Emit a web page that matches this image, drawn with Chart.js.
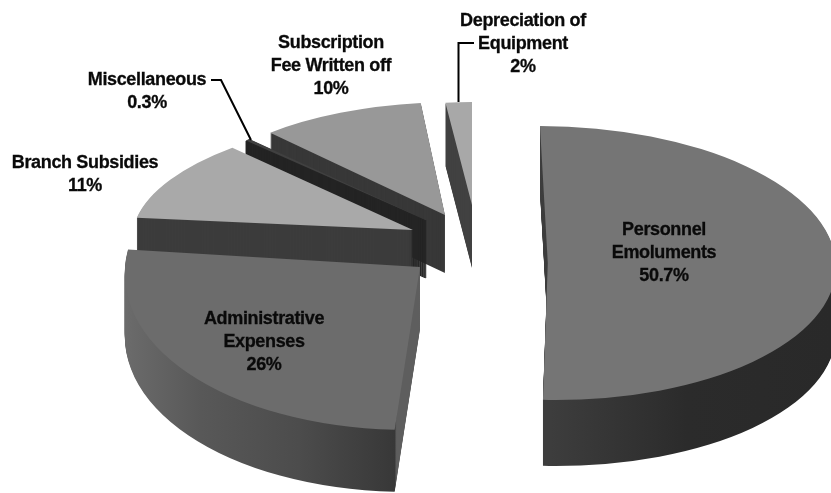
<!DOCTYPE html>
<html>
<head>
<meta charset="utf-8">
<script src="https://cdn.jsdelivr.net/npm/chart.js@4/dist/chart.umd.js"></script>
<style>
  html, body { margin: 0; padding: 0; background: #fff; }
  canvas { display: block; }
</style>
</head>
<body>
<canvas id="chart" width="831" height="493"></canvas>
<script>
const categories = ["Personnel Emoluments", "Administrative Expenses", "Branch Subsidies", "Miscellaneous", "Subscription Fee Written off", "Depreciation of Equipment"];
const percentages = [50.7, 26, 11, 0.3, 10, 2];

const topColors = ["#757575", "#6c6c6c", "#a9a9a9", "#404040", "#989898", "#a8a8a8"];
const wallColors = [
  [[543, "#3d3d3d"], [680, "#2b2b2b"], [831, "#292929"]],
  [[124, "#6c6c6c"], [210, "#585858"], [310, "#4c4c4c"], [407, "#383838"], [408, "#5e5e5e"], [430, "#5e5e5e"]],
  "#3c3c3c",
  "#242424",
  "#383838",
  "#424242",
];

// the fake 3D view: where each exploded slice ends up and how it is flattened
const sliceView = [
  { apexX: 547.8, apexY: 263, rx: 288, ry: 137, skew: 0.057, depth: 66 },
  { apexX: 420, apexY: 267, rx: 295, ry: 163, skew: -0.076, depth: 62 },
  { apexX: 413, apexY: 230, rx: 280, ry: 115, skew: -0.18, depth: 58 },
  { apexX: 426, apexY: 220, rx: 258, ry: 111, skew: 0, depth: 58, wallEdge: 2 }, // thin wedge needs a border or the wall comes out washed
  { apexX: 445, apexY: 215, rx: 265, ry: 113, skew: -0.08, depth: 58 },
  { apexX: 472, apexY: 205, rx: 212, ry: 103, skew: 0, depth: 63 },
];

const labelLines = [
  { x: 664, y: 230, lines: ["Personnel", "Emoluments", "50.7%"] },
  { x: 264, y: 319, lines: ["Administrative", "Expenses", "26%"] },
  { x: 85, y: 163, lines: ["Branch Subsidies", "11%"] },
  { x: 147, y: 80, lines: ["Miscellaneous", "0.3%"] },
  { x: 331, y: 43, lines: ["Subscription", "Fee Written off", "10%"] },
  { x: 523, y: 21, lines: ["Depreciation of", "Equipment", "2%"] },
];

const leaderLines = [
  [[211, 80], [221, 80], [251, 140]],
  [[474, 43], [458.5, 43], [458.5, 102]],
];

function applyView(ctx, arc, view, lift) {
  const sx = view.rx / arc.outerRadius;
  const sy = view.ry / arc.outerRadius;
  const c = view.skew * sy;
  ctx.transform(sx, 0, c, sy, view.apexX - sx * arc.x - c * arc.y, view.apexY - sy * arc.y + lift);
}

// gradient stops are given in page x, the arc is drawn in its own local x
function wallFill(ctx, arc, view, stops) {
  if (typeof stops === "string") return stops;
  const sx = view.rx / arc.outerRadius;
  const toLocal = (x) => arc.x + (x - view.apexX) / sx;
  const first = stops[0][0];
  const last = stops[stops.length - 1][0];
  const g = ctx.createLinearGradient(toLocal(first), 0, toLocal(last), 0);
  stops.forEach(([x, color]) => g.addColorStop((x - first) / (last - first), color));
  return g;
}

function drawArc(ctx, arc, view, lift, fill, edge) {
  const saved = arc.options;
  arc.options = Object.assign({}, saved, { backgroundColor: fill, borderColor: fill, borderWidth: edge || 0, offset: 0 });
  ctx.save();
  applyView(ctx, arc, view, lift);
  arc.draw(ctx);
  ctx.restore();
  arc.options = saved;
}

const pie3d = {
  id: "pie3d",
  beforeDatasetDraw(chart, args) {
    const ctx = chart.ctx;
    const arcs = args.meta.data;
    // back to front
    [5, 4, 3, 2, 1, 0].forEach((i) => {
      const view = sliceView[i];
      const fill = wallFill(ctx, arcs[i], view, wallColors[i]);
      for (let d = view.depth; d > 0; d--) drawArc(ctx, arcs[i], view, d, fill, view.wallEdge);
      drawArc(ctx, arcs[i], view, 0, topColors[i]);
    });
    return false;
  },
  afterDraw(chart) {
    const ctx = chart.ctx;
    ctx.save();
    ctx.strokeStyle = "#000";
    ctx.lineWidth = 2;
    leaderLines.forEach((pts) => {
      ctx.beginPath();
      pts.forEach(([x, y], i) => (i ? ctx.lineTo(x, y) : ctx.moveTo(x, y)));
      ctx.stroke();
    });
    ctx.fillStyle = "#0a0a0a";
    ctx.strokeStyle = "#0a0a0a";
    ctx.lineWidth = 0.3;
    ctx.font = "bold 18px 'Liberation Sans'";
    ctx.letterSpacing = "-0.35px";
    ctx.textAlign = "center";
    ctx.textBaseline = "middle";
    labelLines.forEach((l) => {
      l.lines.forEach((text, i) => {
        ctx.fillText(text, l.x, l.y + i * 23);
        ctx.strokeText(text, l.x, l.y + i * 23);
      });
    });
    ctx.restore();
  },
};

new Chart(document.getElementById("chart"), {
  type: "pie",
  data: {
    labels: categories,
    datasets: [{ data: percentages, backgroundColor: topColors, borderWidth: 0 }],
  },
  options: {
    responsive: false,
    animation: false,
    plugins: {
      legend: { display: false },
      tooltip: { enabled: false },
    },
  },
  plugins: [pie3d],
});
</script>
</body>
</html>
